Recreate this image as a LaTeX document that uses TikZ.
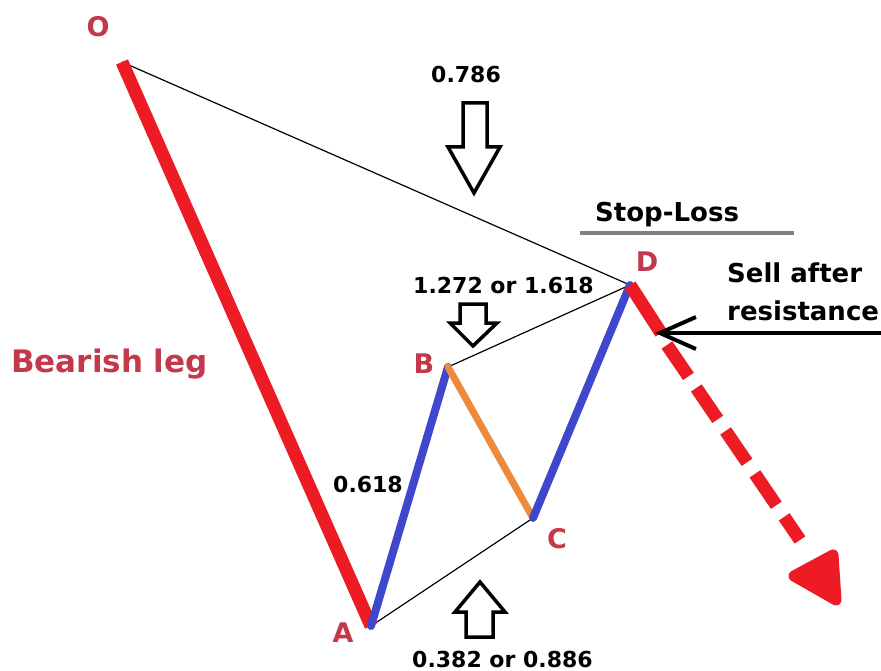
\documentclass[tikz,border=0pt]{standalone}
\usepackage{fontspec}
\setmainfont{DejaVu Sans}
\usetikzlibrary{arrows.meta}
\definecolor{legred}{HTML}{ED1C24}
\definecolor{legblue}{HTML}{3F48CC}
\definecolor{legorange}{HTML}{EE8A3C}
\definecolor{lblred}{HTML}{C3384A}
\definecolor{slgrey}{HTML}{808080}
\tikzset{
  ptlabel/.style={inner sep=0pt, text=lblred, font=\fontsize{27}{27}\selectfont\bfseries, anchor=base},
  numlabel/.style={inner sep=0pt, text=black, font=\fontsize{22}{22}\selectfont\bfseries, anchor=base west},
  biglabel/.style={inner sep=0pt, text=black, font=\fontsize{26}{26}\selectfont\bfseries, anchor=base west},
  redleg/.style={draw=legred, line width=13pt, line cap=butt},
  blueleg/.style={draw=legblue, line width=8pt, line cap=round},
  orangeleg/.style={draw=legorange, line width=7pt, line cap=round},
  thinline/.style={draw=black, line width=1.2pt},
  hollowarrow/.style={draw=black, line width=3.5pt, line join=miter, fill=white},
}
\begin{document}
\begin{tikzpicture}[x=1pt,y=-1pt]
\useasboundingbox (0,0) rectangle (881,671);
\fill[white] (0,0) rectangle (881,671);
% pattern points
\coordinate (O) at (122,62);
\coordinate (A) at (371,626);
\coordinate (B) at (448,367);
\coordinate (C) at (533,518);
\coordinate (D) at (630,285);
\coordinate (Dsolid) at (661,333);
\coordinate (Dash0) at (667,345);
\coordinate (Dash1) at (800,540);
\coordinate (Ha) at (794,576);
\coordinate (Ht) at (836,600);
\coordinate (Hb) at (833,555);
\coordinate (Sellstart) at (881,333);
\coordinate (Sellend) at (655,333);
\coordinate (SLa) at (580,233);
\coordinate (SLb) at (794,233);
% thin retracement lines
\draw[thinline] (O) -- (D);
\draw[thinline] (B) -- (D);
\draw[thinline] (A) -- (C);
% legs
\draw[redleg] (O) -- (A);
\draw[blueleg] (A) -- (B);
\draw[orangeleg] (B) -- (C);
\draw[blueleg] (C) -- (D);
\draw[redleg] (D) -- (Dsolid);
\draw[redleg, dash pattern=on 38pt off 14pt] (Dash0) -- (Dash1);
\filldraw[fill=legred, draw=legred, line width=11pt, line join=round, line cap=round] (Ha) -- (Ht) -- (Hb) -- cycle;
% stop-loss bar
\draw[draw=slgrey, line width=4pt] (SLa) -- (SLb);
% sell arrow
\draw[line width=4pt, -{Straight Barb[length=36pt, width=32pt, line width=4pt]}] (Sellstart) -- (Sellend);
% hollow arrows
\draw[hollowarrow] (463,103) -- (487,103) -- (487,147) -- (500,147) -- (474,193) -- (448,147) -- (463,147) -- cycle;
\draw[hollowarrow] (460,304) -- (486,304) -- (486,323) -- (497,323) -- (473,346) -- (450,323) -- (460,323) -- cycle;
\draw[hollowarrow] (466,637) -- (493,637) -- (493,612) -- (505,612) -- (480,582) -- (455,612) -- (466,612) -- cycle;
% point labels
\node[ptlabel] (lO) at (98,37) {O};
\node[ptlabel] (lA) at (343,642) {A};
\node[ptlabel] (lB) at (424,373) {B};
\node[ptlabel] (lC) at (557,548) {C};
\node[ptlabel] (lD) at (647,272) {D};
% texts
\node[inner sep=0pt, text=lblred, font=\fontsize{31}{31}\selectfont\bfseries, anchor=base west] (bear) at (11,372) {Bearish leg};
\node[numlabel] (n0618) at (333,492) {0.618};
\node[numlabel] (n0786) at (431,83) {0.786};
\node[numlabel] (n1272) at (413,293) {1.272 or 1.618};
\node[numlabel] (n0382) at (412,667) {0.382 or 0.886};
\node[biglabel] (sl) at (595,222) {Stop-Loss};
\node[biglabel] (sell1) at (727,283) {Sell after};
\node[biglabel] (sell2) at (727,320) {resistance};
\end{tikzpicture}
\end{document}
